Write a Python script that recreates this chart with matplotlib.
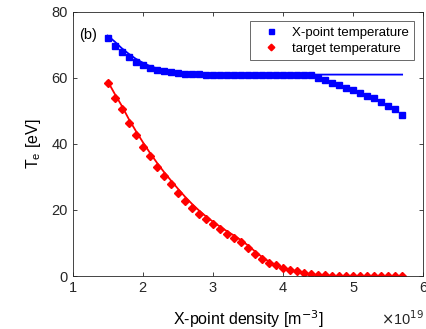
import matplotlib.pyplot as plt
import numpy as np

plt.rcParams['font.family'] = ['Liberation Sans', 'DejaVu Sans']

# X-point density in units of 1e19 m^-3
density = np.round(np.arange(1.5, 5.75, 0.1), 2)

# X-point temperature (symbols) and model (line)
xpt_temp = [72.0, 69.7, 67.8, 66.2, 64.8, 63.8, 63.1, 62.5, 62.0, 61.7,
            61.5, 61.3, 61.2, 61.1, 61.0, 61.0, 61.0, 61.0, 61.0, 61.0,
            61.0, 61.0, 61.0, 61.0, 61.0, 61.0, 61.0, 61.0, 61.0, 60.8,
            59.9, 59.3, 58.6, 57.7, 57.0, 56.3, 55.5, 54.6, 53.8, 52.6,
            51.5, 50.6, 48.7]
xpt_model = [72.8, 71.0, 69.0, 67.3, 65.8, 64.6, 63.6, 62.9, 62.3, 61.9,
             61.6, 61.4, 61.2, 61.1, 61.0, 61.0, 61.0, 61.0, 61.0, 61.0,
             61.0, 61.0, 61.0, 61.0, 61.0, 61.0, 61.0, 61.0, 61.0, 61.0,
             61.0, 61.0, 61.0, 61.0, 61.0, 61.0, 61.0, 61.0, 61.0, 61.0,
             61.0, 61.0, 61.0]

# target temperature (symbols) and model (line)
tgt_temp = [58.4, 54.0, 50.5, 46.3, 42.7, 39.2, 36.2, 33.1, 30.4, 27.8,
            25.2, 22.7, 20.7, 18.8, 17.2, 15.7, 14.2, 12.8, 11.5, 10.2,
            8.6, 6.7, 5.2, 4.0, 3.2, 2.5, 1.9, 1.4, 0.9, 0.6,
            0.3, 0.2, 0.1, 0.1, 0.1, 0.1, 0.1, 0.1, 0.1, 0.1,
            0.1, 0.1, 0.1]
tgt_model = [59.0, 55.2, 51.6, 47.6, 44.0, 40.6, 37.4, 34.4, 31.6, 29.0,
             26.5, 24.1, 21.9, 19.9, 18.1, 16.5, 15.0, 13.6, 12.3, 10.9,
             9.3, 7.5, 5.8, 4.4, 3.3, 2.5, 1.8, 1.2, 0.7, 0.4,
             0.2, 0.1, 0.0, 0.0, 0.0, 0.0, 0.0, 0.0, 0.0, 0.0,
             0.0, 0.0, 0.0]

fig = plt.figure(figsize=(4.27, 3.29), dpi=100)
ax = fig.add_axes([0.170, 0.161, 0.821, 0.803])

ax.plot(density, xpt_model, color='#0000ff', linewidth=1.3)
ax.plot(density, tgt_model, color='#ff0000', linewidth=1.3)
ax.plot(density, xpt_temp, 's', color='#0000ff', markersize=4.5,
        label='X-point temperature')
ax.plot(density, tgt_temp, 'D', color='#ff0000', markersize=4.2,
        label='target temperature')

ax.set_xlim(1, 6)
ax.set_ylim(0, 80)
ax.set_xticks([1, 2, 3, 4, 5, 6])
ax.set_yticks([0, 20, 40, 60, 80])
ax.tick_params(direction='in', top=True, right=True, length=3,
               labelsize=10.5, colors='#262626', width=0.6)
for sp in ax.spines.values():
    sp.set_color('#262626')
    sp.set_linewidth(0.6)

ax.set_xlabel('X-point density [m$^{-3}$]', fontsize=11.5, labelpad=10)
ax.set_ylabel('T$_{\\mathregular{e}}$ [eV]', fontsize=11.5, labelpad=6)
ax.text(0.02, 0.94, '(b)', transform=ax.transAxes, fontsize=10.5,
        ha='left', va='top')
fig.text(0.992, 0.004, '$\\times$10$^{19}$', fontsize=10.5, ha='right',
         va='bottom', color='#262626')

leg = ax.legend(loc='upper right', fontsize=9.5, frameon=True, fancybox=False,
                edgecolor='#262626', handlelength=2.4, handletextpad=0.4,
                borderpad=0.4, labelspacing=0.3, borderaxespad=0.7,
                markerscale=0.8)
leg.get_frame().set_linewidth(0.6)

fig.savefig('out.png', dpi=100)
